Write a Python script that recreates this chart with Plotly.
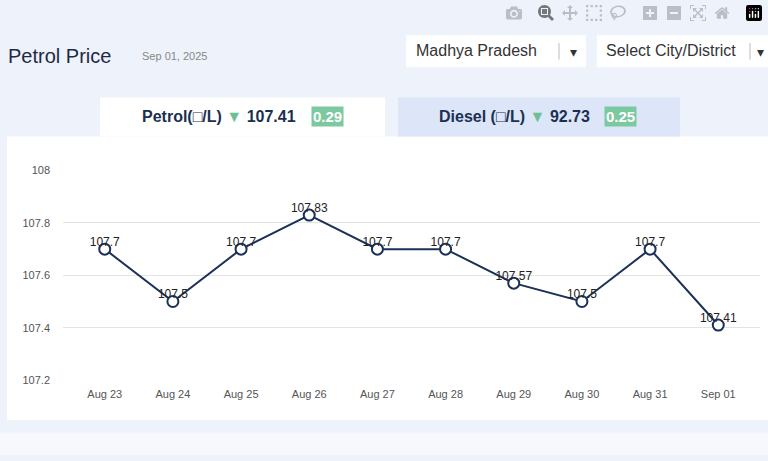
import plotly.graph_objects as go

dates = ["Aug 23","Aug 24","Aug 25","Aug 26","Aug 27","Aug 28","Aug 29","Aug 30","Aug 31","Sep 01"]
prices = [107.7,107.5,107.7,107.83,107.7,107.7,107.57,107.5,107.7,107.41]
yticks = [107.2,107.4,107.6,107.8,108]
ytick_labels = ["107.2","107.4","107.6","107.8","108"]

W, H = 768, 461
def px(x): return x / W
def py(y): return 1 - y / H

fig = go.Figure()
fig.add_trace(go.Scatter(
    x=dates, y=prices, mode="lines+markers",
    line=dict(color="#1c3157", width=2),
    marker=dict(size=11, color="white", line=dict(color="#1c3157", width=2)),
    cliponaxis=False, hoverinfo="x+y",
))
fig.add_trace(go.Scatter(
    x=dates, y=prices, mode="text",
    text=[f"{v:g}" for v in prices], textposition="top center",
    textfont=dict(size=12, color="#222", family="Arial, Liberation Sans"),
    cliponaxis=False, hoverinfo="skip",
))

shapes = [
    dict(type="rect", xref="paper", yref="paper", x0=px(7), x1=1, y0=py(425), y1=py(134), fillcolor="white", line_width=0, layer="below"),
    dict(type="rect", xref="paper", yref="paper", x0=px(100), x1=px(385), y0=py(134), y1=py(94), fillcolor="white", line_width=0, layer="below"),
    dict(type="rect", xref="paper", yref="paper", x0=px(398), x1=px(680), y0=py(134), y1=py(94), fillcolor="#dce6f8", line_width=0, layer="below"),
    dict(type="rect", xref="paper", yref="paper", x0=px(406), x1=px(586), y0=py(63), y1=py(30), fillcolor="white", line_width=0, layer="below"),
    dict(type="rect", xref="paper", yref="paper", x0=px(597), x1=1, y0=py(63), y1=py(30), fillcolor="white", line_width=0, layer="below"),
    dict(type="line", xref="paper", yref="paper", x0=px(559), x1=px(559), y0=py(55), y1=py(38), line=dict(color="#bbb", width=1)),
    dict(type="line", xref="paper", yref="paper", x0=px(750), x1=px(750), y0=py(55), y1=py(38), line=dict(color="#bbb", width=1)),
    dict(type="rect", xref="paper", yref="paper", x0=0, x1=1, y0=0, y1=py(438), fillcolor="#f6f8fd", line_width=0, layer="below"),
]

ff = "Arial, Liberation Sans"
ann = [
    dict(text="Petrol Price", x=px(6), y=py(51), xanchor="left", yanchor="middle", font=dict(size=20, color="#1e2a45", family=ff)),
    dict(text="Sep 01, 2025", x=px(140), y=py(51), xanchor="left", yanchor="middle", font=dict(size=11, color="#888", family=ff)),
    dict(text="Madhya Pradesh", x=px(414), y=py(46), xanchor="left", yanchor="middle", font=dict(size=16, color="#333", family=ff)),
    dict(text="▾", x=px(573), y=py(47), xanchor="center", yanchor="middle", font=dict(size=14, color="#333", family=ff)),
    dict(text="Select City/District", x=px(604), y=py(46), xanchor="left", yanchor="middle", font=dict(size=16, color="#333", family=ff)),
    dict(text="▾", x=px(760), y=py(47), xanchor="center", yanchor="middle", font=dict(size=14, color="#333", family=ff)),
    dict(text="<b>Petrol(□/L)</b> <span style='color:#6fbf95'>▼</span> <b>107.41</b>", x=px(140), y=py(113), xanchor="left", yanchor="middle", font=dict(size=16, color="#1b2f52", family=ff)),
    dict(text="<b>0.29</b>", x=px(327), y=py(113), xanchor="center", yanchor="middle", bgcolor="#7cc8a0", borderpad=1, font=dict(size=15, color="white", family=ff)),
    dict(text="<b>Diesel (□/L)</b> <span style='color:#6fbf95'>▼</span> <b>92.73</b>", x=px(437), y=py(113), xanchor="left", yanchor="middle", font=dict(size=16, color="#1b2f52", family=ff)),
    dict(text="<b>0.25</b>", x=px(620), y=py(113), xanchor="center", yanchor="middle", bgcolor="#7cc8a0", borderpad=1, font=dict(size=15, color="white", family=ff)),
]
for a in ann:
    a.update(xref="paper", yref="paper", showarrow=False)

fig.update_layout(
    width=W, height=H, margin=dict(l=0, r=0, t=0, b=0),
    paper_bgcolor="#eef2fb", plot_bgcolor="rgba(0,0,0,0)",
    showlegend=False, shapes=shapes, annotations=ann,
    xaxis=dict(domain=[px(63), px(760)], showgrid=False, zeroline=False, showline=False,
               tickfont=dict(size=11, color="#555", family=ff), ticks="", ticklabelstandoff=6),
    yaxis=dict(domain=[(H-384)/H, (H-169)/H], range=[107.2, 108], tickvals=yticks, ticktext=ytick_labels,
               showgrid=True, gridcolor="#e3e3e3", zeroline=False, showline=False,
               tickfont=dict(size=11, color="#555", family=ff), ticks="", ticklabelstandoff=12),
)
fig.write_html("out.html", post_script="document.body.style.margin='0';document.body.style.overflow='hidden';")
